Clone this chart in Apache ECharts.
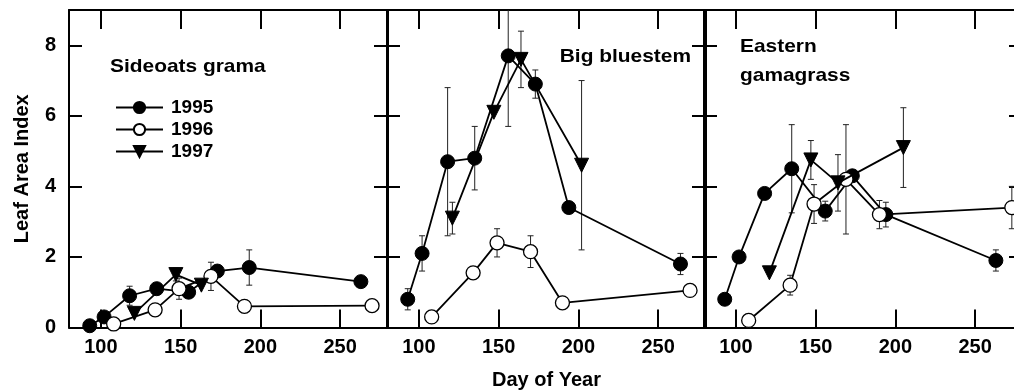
<!DOCTYPE html>
<html>
<head>
<meta charset="utf-8">
<script src="https://cdn.jsdelivr.net/npm/echarts@6/dist/echarts.min.js"></script>
<style>
  html, body { margin: 0; padding: 0; background: #fff; }
  #chart { width: 1014px; height: 391px; }
</style>
</head>
<body>
<div id="chart"></div>
<script>
// Tick positions
const dayTicks = [100, 150, 200, 250];
const laiTicks = [0, 2, 4, 6, 8];
const panelNames = ['Sideoats grama', 'Big bluestem', 'Eastern\ngamagrass'];
const years = ['1995', '1996', '1997'];

// Sideoats grama
const sideoats1995Day = [93, 102, 118, 135, 155, 173, 193, 263];
const sideoats1995Lai = [0.05, 0.3, 0.9, 1.1, 1.0, 1.6, 1.7, 1.3];
const sideoats1995Se  = [0, 0.15, 0.27, 0, 0, 0, 0.5, 0];
const sideoats1996Day = [108, 134, 149, 169, 190, 270];
const sideoats1996Lai = [0.1, 0.5, 1.1, 1.45, 0.6, 0.62];
const sideoats1996Se  = [0, 0, 0.3, 0.4, 0, 0];
const sideoats1997Day = [121, 147, 163];
const sideoats1997Lai = [0.4, 1.5, 1.2];
const sideoats1997Se  = [0, 0.18, 0];

// Big bluestem
const bluestem1995Day = [93, 102, 118, 135, 156, 173, 194, 264];
const bluestem1995Lai = [0.8, 2.1, 4.7, 4.8, 7.7, 6.9, 3.4, 1.8];
const bluestem1995Se  = [0.3, 0.5, 2.1, 0.9, 2.0, 0.4, 0, 0.3];
const bluestem1996Day = [108, 134, 149, 170, 190, 270];
const bluestem1996Lai = [0.3, 1.55, 2.4, 2.15, 0.7, 1.05];
const bluestem1996Se  = [0, 0, 0.4, 0.45, 0, 0];
const bluestem1997Day = [121, 147, 164, 202];
const bluestem1997Lai = [3.1, 6.1, 7.6, 4.6];
const bluestem1997Se  = [0.45, 0, 0.8, 2.4];

// Eastern gamagrass
const gamagrass1995Day = [93, 102, 118, 135, 156, 173, 194, 263];
const gamagrass1995Lai = [0.8, 2.0, 3.8, 4.5, 3.3, 4.3, 3.2, 1.9];
const gamagrass1995Se  = [0, 0, 0, 1.25, 0.28, 0, 0.35, 0.3];
const gamagrass1996Day = [108, 134, 149, 169, 190, 273];
const gamagrass1996Lai = [0.2, 1.2, 3.5, 4.2, 3.2, 3.4];
const gamagrass1996Se  = [0, 0.28, 0.55, 1.55, 0.4, 0.6];
const gamagrass1997Day = [121, 147, 164, 205];
const gamagrass1997Lai = [1.55, 4.75, 4.1, 5.1];
const gamagrass1997Se  = [0, 0.55, 0.8, 1.13];

const panelData = [
  [[sideoats1995Day, sideoats1995Lai, sideoats1995Se],
   [sideoats1996Day, sideoats1996Lai, sideoats1996Se],
   [sideoats1997Day, sideoats1997Lai, sideoats1997Se]],
  [[bluestem1995Day, bluestem1995Lai, bluestem1995Se],
   [bluestem1996Day, bluestem1996Lai, bluestem1996Se],
   [bluestem1997Day, bluestem1997Lai, bluestem1997Se]],
  [[gamagrass1995Day, gamagrass1995Lai, gamagrass1995Se],
   [gamagrass1996Day, gamagrass1996Lai, gamagrass1996Se],
   [gamagrass1997Day, gamagrass1997Lai, gamagrass1997Se]]
];

const FONT = '"Liberation Sans", Arial, Helvetica, sans-serif';
const gridLeft = [69, 387, 704];
const gridWidth = 319;

const symbolStyles = [
  { symbol: 'circle', symbolSize: 14, symbolRotate: 0, itemStyle: { color: '#000', borderColor: '#000', borderWidth: 1 } },
  { symbol: 'circle', symbolSize: 14, symbolRotate: 0, itemStyle: { color: '#fff', borderColor: '#000', borderWidth: 1.3 } },
  { symbol: 'triangle', symbolSize: 14, symbolRotate: 180, itemStyle: { color: '#000', borderColor: '#000', borderWidth: 1 } }
];

const axisLineStyle = { color: '#000', width: 2 };

const grids = [], xAxes = [], yAxes = [], series = [];

gridLeft.forEach((left, p) => {
  grids.push({ left: left, top: 10, width: gridWidth, height: 317.5, containLabel: false, outerBoundsMode: 'none' });
  // bottom day axis
  xAxes.push({
    type: 'value', gridIndex: p, min: 80, max: 280, position: 'bottom',
    name: p === 1 ? 'Day of Year' : '', nameLocation: 'middle', nameGap: 43,
    nameTextStyle: { fontFamily: FONT, fontWeight: 'bold', fontSize: 20, color: '#000' },
    axisLine: { onZero: false, lineStyle: axisLineStyle },
    axisTick: { inside: true, length: 18, customValues: dayTicks, lineStyle: { color: '#000', width: 2 } },
    axisLabel: { customValues: dayTicks, fontFamily: FONT, fontWeight: 'bold', fontSize: 20, color: '#000', margin: 10 },
    splitLine: { show: false }
  });
  // top frame axis
  xAxes.push({
    type: 'value', gridIndex: p, min: 80, max: 280, position: 'top',
    axisLine: { onZero: false, lineStyle: axisLineStyle },
    axisTick: { inside: true, length: 19, customValues: dayTicks, lineStyle: { color: '#000', width: 2 } },
    axisLabel: { show: false },
    splitLine: { show: false }
  });
  // left LAI axis
  yAxes.push({
    type: 'value', gridIndex: p, min: 0, max: 9, position: 'left',
    name: p === 0 ? 'Leaf Area Index' : '', nameLocation: 'middle', nameGap: 37,
    nameTextStyle: { fontFamily: FONT, fontWeight: 'bold', fontSize: 20, color: '#000' },
    axisLine: { onZero: false, lineStyle: axisLineStyle },
    axisTick: { inside: true, length: 13, customValues: laiTicks, lineStyle: { color: '#000', width: 2 } },
    axisLabel: { show: p === 0, customValues: laiTicks, fontFamily: FONT, fontWeight: 'bold', fontSize: 20, color: '#000', margin: 13 },
    splitLine: { show: false }
  });
  // right frame axis
  yAxes.push({
    type: 'value', gridIndex: p, min: 0, max: 9, position: 'right',
    axisLine: { onZero: false, lineStyle: axisLineStyle },
    axisTick: { inside: true, length: 14, customValues: laiTicks, lineStyle: { color: '#000', width: 2 } },
    axisLabel: { show: false },
    splitLine: { show: false }
  });

  panelData[p].forEach((yr, k) => {
    const [days, lai, se] = yr;
    const bars = [];
    days.forEach((d, i) => { if (se[i] > 0) bars.push([d, lai[i] - se[i], lai[i] + se[i]]); });
    // error bars
    series.push({
      type: 'custom', name: 'se' + years[k], xAxisIndex: p * 2, yAxisIndex: p * 2,
      clip: true, z: 1, silent: true,
      data: bars,
      renderItem: function (params, api) {
        const top = api.coord([api.value(0), api.value(2)]);
        const bot = api.coord([api.value(0), api.value(1)]);
        const cap = 3;
        const st = { stroke: '#222', lineWidth: 1 };
        return {
          type: 'group',
          children: [
            { type: 'line', shape: { x1: top[0], y1: top[1], x2: bot[0], y2: bot[1] }, style: st },
            { type: 'line', shape: { x1: top[0] - cap, y1: top[1], x2: top[0] + cap, y2: top[1] }, style: st },
            { type: 'line', shape: { x1: bot[0] - cap, y1: bot[1], x2: bot[0] + cap, y2: bot[1] }, style: st }
          ]
        };
      }
    });
    // data line with markers
    const sty = symbolStyles[k];
    series.push({
      type: 'line', name: years[k], xAxisIndex: p * 2, yAxisIndex: p * 2,
      data: days.map((d, i) => [d, lai[i]]),
      symbol: sty.symbol, symbolSize: sty.symbolSize, symbolRotate: sty.symbolRotate,
      showAllSymbol: true, clip: false, z: 2 + k,
      lineStyle: { color: '#000', width: 1.8 },
      itemStyle: sty.itemStyle,
      emphasis: { disabled: true },
      animation: false
    });
  });
});

function panelLabel(text, x, y, align) {
  return {
    type: 'text', x: x, y: y, scaleX: 1.1,
    style: {
      text: text, textAlign: align, textVerticalAlign: 'top', lineHeight: 29,
      fontFamily: FONT, fontWeight: 'bold', fontSize: 19, fill: '#000'
    }
  };
}

const option = {
  backgroundColor: '#fff',
  animation: false,
  grid: grids,
  xAxis: xAxes,
  yAxis: yAxes,
  series: series,
  legend: {
    data: years, orient: 'vertical', left: 110, top: 93,
    itemWidth: 47, itemHeight: 14, itemGap: 3,
    textStyle: { fontFamily: FONT, fontWeight: 'bold', fontSize: 19, color: '#000', padding: [0, 0, 0, 3] },
    selectedMode: false
  },
  graphic: [
    panelLabel(panelNames[0], 110, 52, 'left'),
    panelLabel(panelNames[1], 691, 42, 'right'),
    panelLabel(panelNames[2], 740, 32, 'left')
  ]
};

const chart = echarts.init(document.getElementById('chart'), null, { renderer: 'canvas' });
chart.setOption(option);
</script>
</body>
</html>
